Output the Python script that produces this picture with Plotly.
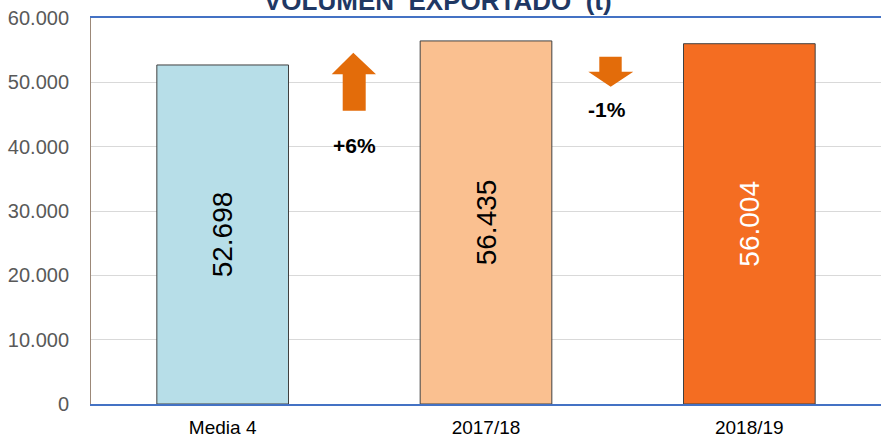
import plotly.graph_objects as go

categories = ["Media 4", "2017/18", "2018/19"]
values = [52698, 56435, 56004]
bar_colors = ["#B7DEE8", "#FAC090", "#F46D22"]
label_colors = ["#000000", "#000000", "#FFFFFF"]
changes = ["+6%", "-1%"]
title = "VOLUMEN  EXPORTADO  (t)"

L, T, W, H = 91, 18, 790, 386
def px(x):
    return (x - L) / W
def py(y):
    return (T + H - y) / H

fig = go.Figure()
fig.add_trace(go.Bar(
    x=categories, y=values,
    marker=dict(color=bar_colors, line=dict(color="#404040", width=1)),
    width=0.5,
    texttemplate="%{y:,.0f}",
    textposition="inside",
    insidetextanchor="middle",
    textangle=-90,
    textfont=dict(family="Liberation Sans, Arial", size=28, color=label_colors),
    hoverinfo="skip",
))

up = [(353.3, 52.7), (376, 74.3), (365.7, 74.3), (365.7, 110.7), (342.7, 110.7), (342.7, 74.3), (331.7, 74.3)]
down = [(599.3, 56.7), (621.7, 56.7), (621.7, 71.7), (633.3, 71.7), (610.7, 86.7), (588.3, 71.7), (599.3, 71.7)]
shapes = []
for pts in (up, down):
    path = "M " + " L ".join(f"{px(x):.5f},{py(y):.5f}" for x, y in pts) + " Z"
    shapes.append(dict(type="path", xref="paper", yref="paper", path=path,
                       fillcolor="#E36C0A", line=dict(width=0)))

annotations = [
    dict(text=changes[0], x=px(354), y=py(145), xref="paper", yref="paper", showarrow=False,
         xanchor="center", yanchor="middle",
         font=dict(family="Liberation Sans, Arial", size=21, color="#000000", weight="bold")),
    dict(text=changes[1], x=px(607), y=py(110), xref="paper", yref="paper", showarrow=False,
         xanchor="center", yanchor="middle",
         font=dict(family="Liberation Sans, Arial", size=21, color="#000000", weight="bold")),
    dict(text=f"<b>{title}</b>", x=px(438), y=1, xref="paper", yref="paper", showarrow=False,
         xanchor="center", yanchor="bottom", yshift=0,
         font=dict(family="Liberation Sans, Arial", size=26, color="#1F3864")),
]

fig.update_layout(
    width=881, height=439,
    margin=dict(l=L, r=0, t=T, b=439 - T - H, autoexpand=False),
    paper_bgcolor="white", plot_bgcolor="white",
    separators=",.",
    showlegend=False,
    shapes=shapes,
    annotations=annotations,
    bargap=0.5,
    xaxis=dict(showline=True, linecolor="#4472C4", linewidth=1.5, mirror=True,
               automargin=False,
               tickfont=dict(family="Liberation Sans, Arial", size=19, color="#000000"),
               ticks="outside", ticklen=5, tickcolor="rgba(0,0,0,0)", showgrid=False),
    yaxis=dict(range=[0, 60000], dtick=10000, tickformat=",.0f", automargin=False,
               showline=True, linecolor="#9C8878", linewidth=1,
               gridcolor="#D9D9D9", gridwidth=1, zeroline=False,
               ticks="outside", ticklen=17, tickcolor="rgba(0,0,0,0)",
               tickfont=dict(family="Liberation Sans, Arial", size=20, color="#595959")),
)

fig.write_html("out.html", config={"displayModeBar": False},
               post_script="document.body.style.margin='0';document.body.style.overflow='hidden';")
